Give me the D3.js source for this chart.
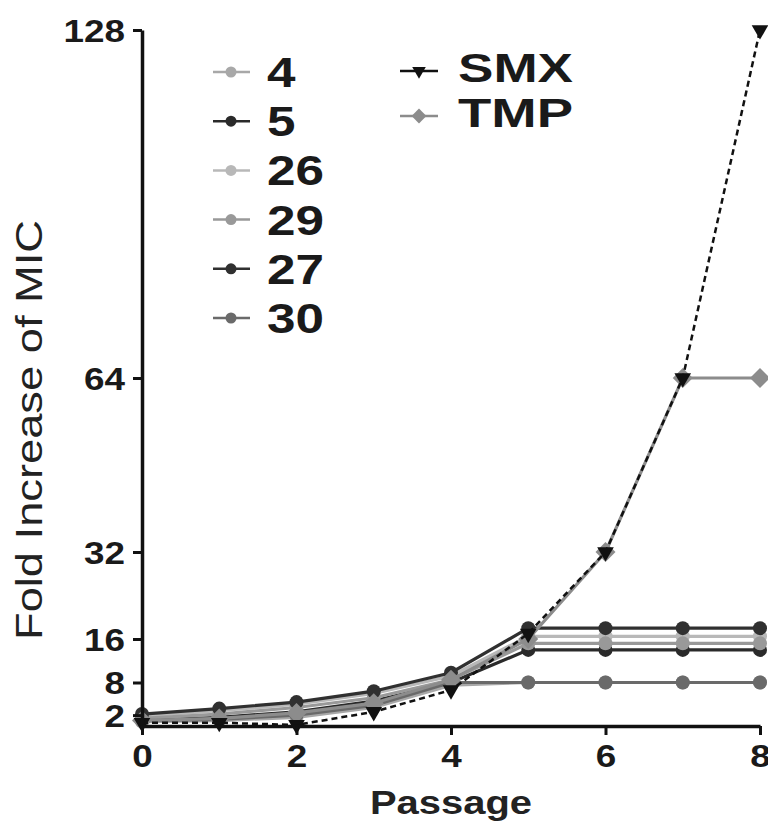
<!DOCTYPE html>
<html>
<head>
<meta charset="utf-8">
<script src="https://cdn.jsdelivr.net/npm/d3@7.9.0/dist/d3.min.js"></script>
<style>
  body { margin: 0; background: #fff; }
  svg { display: block; font-family: "Liberation Sans", Arial, sans-serif; }
</style>
</head>
<body>
<svg id="chart" width="768" height="835"></svg>
<script>
// passages on the x axis
const passages = [0, 1, 2, 3, 4, 5, 6, 7, 8];

// fold increase of MIC
const strain4  = [0.8, 1.0, 1.6, 3.4, 7.5, 8, 8, 8, 8];
const strain5  = [1.0, 1.6, 2.6, 4.6, 8.0, 14, 14, 14, 14];
const strain26 = [1.8, 2.8, 4.0, 6.0, 9.2, 16.5, 16.5, 16.5, 16.5];
const strain29 = [1.4, 2.2, 3.4, 5.2, 8.5, 15.2, 15.2, 15.2, 15.2];
const strain27 = [2.2, 3.2, 4.4, 6.4, 9.8, 18, 18, 18, 18];
const strain30 = [1.0, 1.2, 2.0, 3.8, 8.0, 8, 8, 8, 8];
const smx = [0.6, 0.6, 0.2, 2.6, 6.6, 17, 32, 64, 128];
const tmp = [1.0, 1.4, 2.4, 4.2, 8.5, 16, 32, 64, 64];

const yTicks = [2, 8, 16, 32, 64, 128];
const xTicks = [0, 2, 4, 6, 8];

const strainLegend = ['4', '5', '26', '29', '27', '30'];
const drugLegend = ['SMX', 'TMP'];

const svg = d3.select('#chart');

const x = d3.scaleLinear().domain([0, 8]).range([142, 760]);
const y = d3.scaleLinear().domain([0, 128]).range([726, 30]);

// series styling
const series = [
  { name: '4',  values: strain4,  color: '#a8a8a8', marker: 'circle' },
  { name: '5',  values: strain5,  color: '#2a2a2a', marker: 'circle' },
  { name: '26', values: strain26, color: '#b8b8b8', marker: 'circle' },
  { name: '29', values: strain29, color: '#999999', marker: 'circle' },
  { name: '27', values: strain27, color: '#303030', marker: 'circle' },
  { name: '30', values: strain30, color: '#6a6a6a', marker: 'circle' },
  { name: 'TMP', values: tmp, color: '#8c8c8c', marker: 'square' },
  { name: 'SMX', values: smx, color: '#111111', marker: 'triangle', dash: '6,4' }
];

const line = d3.line()
  .x((d, i) => x(passages[i]))
  .y(d => y(d));

function drawMarker(g, type, color, cx, cy, big) {
  if (type === 'circle') {
    g.append('circle')
      .attr('cx', cx).attr('cy', cy)
      .attr('r', big ? 7 : 5.5)
      .attr('fill', color);
  } else if (type === 'square') {
    g.append('path')
      .attr('d', d3.symbol().type(d3.symbolSquare).size(big ? 200 : 110)())
      .attr('transform', `translate(${cx},${cy}) rotate(45)`)
      .attr('fill', color);
  } else {
    g.append('path')
      .attr('d', d3.symbol().type(d3.symbolTriangle).size(big ? 120 : 80)())
      .attr('transform', `translate(${cx},${cy}) rotate(180)`)
      .attr('fill', color);
  }
}

// lines + markers
const plot = svg.append('g');
series.forEach(s => {
  plot.append('path')
    .attr('d', line(s.values))
    .attr('fill', 'none')
    .attr('stroke', s.color)
    .attr('stroke-width', s.dash ? 2.5 : 3.2)
    .attr('stroke-dasharray', s.dash || null);
  s.values.forEach((v, i) => {
    drawMarker(plot, s.marker, s.color, x(passages[i]), y(v), true);
  });
});

// axes
const yAxis = svg.append('g')
  .attr('transform', 'translate(142,0)')
  .call(d3.axisLeft(y).tickValues(yTicks).tickSize(9).tickSizeOuter(0).tickPadding(8));

const xAxis = svg.append('g')
  .attr('transform', 'translate(0,726)')
  .call(d3.axisBottom(x).tickValues(xTicks).tickSize(9).tickSizeOuter(0).tickPadding(10));

[yAxis, xAxis].forEach(a => {
  a.select('.domain').attr('stroke', '#111').attr('stroke-width', 3.5);
  a.selectAll('.tick line').attr('stroke', '#111').attr('stroke-width', 3);
  a.selectAll('.tick text')
    .attr('fill', '#1a1a1a')
    .attr('font-size', 31)
    .attr('font-weight', 'bold')
    .attr('font-family', '"Liberation Sans", Arial, sans-serif')
    .attr('textLength', d => String(d).length * 20.5)
    .attr('lengthAdjust', 'spacingAndGlyphs');
});
yAxis.selectAll('.tick text').attr('dy', '0.36em');
xAxis.selectAll('.tick text').attr('dy', '0.72em');

// axis titles
svg.append('text')
  .attr('transform', 'translate(42,430) rotate(-90)')
  .attr('text-anchor', 'middle')
  .attr('font-size', 36)
  .attr('textLength', 420)
  .attr('lengthAdjust', 'spacingAndGlyphs')
  .attr('fill', '#222')
  .text('Fold Increase of MIC');

svg.append('text')
  .attr('x', 451).attr('y', 814)
  .attr('text-anchor', 'middle')
  .attr('font-size', 34)
  .attr('font-weight', 'bold')
  .attr('textLength', 162)
  .attr('lengthAdjust', 'spacingAndGlyphs')
  .attr('fill', '#222')
  .text('Passage');

// legend: strains
const leg1 = svg.append('g');
strainLegend.forEach((name, i) => {
  const s = series.find(d => d.name === name);
  const base = 87 + i * 49.2;
  leg1.append('line')
    .attr('x1', 213).attr('x2', 250)
    .attr('y1', base - 15).attr('y2', base - 15)
    .attr('stroke', s.color).attr('stroke-width', 2.5);
  drawMarker(leg1, s.marker, s.color, 231, base - 15, false);
  leg1.append('text')
    .attr('x', 267).attr('y', base)
    .attr('font-size', 42)
    .attr('font-weight', 'bold')
    .attr('textLength', name.length * 28.5)
    .attr('lengthAdjust', 'spacingAndGlyphs')
    .attr('fill', '#1a1a1a')
    .text(name);
});

// legend: drugs
const leg2 = svg.append('g');
drugLegend.forEach((name, i) => {
  const s = series.find(d => d.name === name);
  const base = 82 + i * 45;
  leg2.append('line')
    .attr('x1', 400).attr('x2', 438)
    .attr('y1', base - 11).attr('y2', base - 11)
    .attr('stroke', s.color).attr('stroke-width', 2.5);
  drawMarker(leg2, s.marker, s.color, 419, base - 11, false);
  leg2.append('text')
    .attr('x', 458).attr('y', base)
    .attr('font-size', 40)
    .attr('font-weight', 'bold')
    .attr('textLength', 115)
    .attr('lengthAdjust', 'spacingAndGlyphs')
    .attr('fill', '#1a1a1a')
    .text(name);
});
</script>
</body>
</html>
